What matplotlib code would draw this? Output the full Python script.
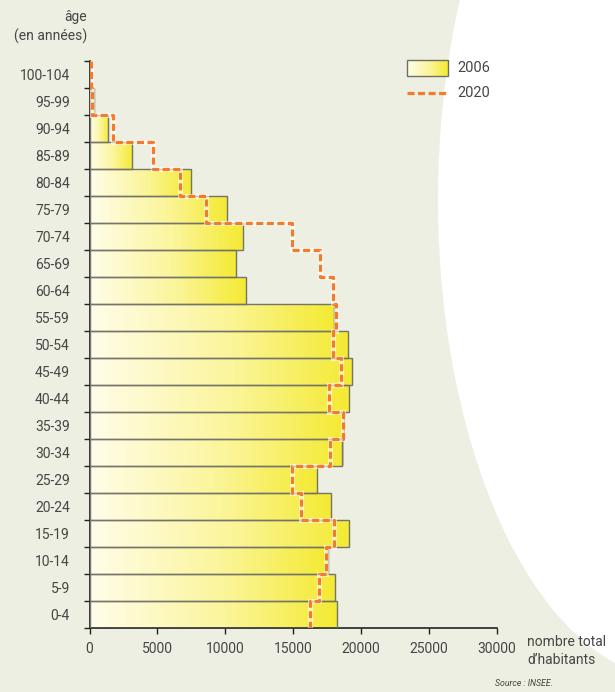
import numpy as np
import matplotlib.pyplot as plt
from matplotlib.colors import LinearSegmentedColormap
from matplotlib.patches import Rectangle, Ellipse

plt.rcParams['font.family'] = ['Roboto', 'DejaVu Sans']

# age groups, bottom to top
ages = ['0-4', '5-9', '10-14', '15-19', '20-24', '25-29', '30-34', '35-39',
        '40-44', '45-49', '50-54', '55-59', '60-64', '65-69', '70-74',
        '75-79', '80-84', '85-89', '90-94', '95-99', '100-104']
pop_2006 = [18200, 18080, 17560, 19090, 17780, 16750, 18620, 18720, 19100,
            19330, 19060, 18000, 11550, 10780, 11270, 10150, 7490, 3120,
            1350, 300, 0]
pop_2020 = [16260, 16910, 17440, 17990, 15600, 14940, 17730, 18670, 17610,
            18550, 17960, 18130, 17930, 16950, 14900, 8600, 6680, 4670,
            1700, 200, 80]
xticks = [0, 5000, 10000, 15000, 20000, 25000, 30000]

bg = '#ECEFE1'
txt = '#464646'
orange = '#F47B2A'
cmap = LinearSegmentedColormap.from_list(
    'yel', [(0, '#FFFDE9'), (0.55, '#FBF59A'), (1, '#F4EA32')])
grad = np.linspace(0, 1, 256).reshape(1, -1)

W, H = 615, 692
fig = plt.figure(figsize=(W / 100, H / 100), dpi=100, facecolor=bg)

# background layer in pixel coords
bgax = fig.add_axes([0, 0, 1, 1], zorder=0)
bgax.set_xlim(0, W)
bgax.set_ylim(H, 0)
bgax.axis('off')
bgax.add_patch(Ellipse((678, 200), 480, 960, facecolor='white', edgecolor='none'))

# legend
bgax.imshow(grad, cmap=cmap, extent=(407, 448, 76, 60), aspect='auto', zorder=2)
bgax.add_patch(Rectangle((407, 60), 41, 16, fill=False, edgecolor='#6e6e64', lw=1, zorder=3))
bgax.text(457, 68, '2006', fontsize=10.5, color=txt, va='center')
bgax.plot([407, 448], [93, 93], color=orange, lw=2.3, dashes=(2.2, 1.1), zorder=3)
bgax.text(457, 93, '2020', fontsize=10.5, color=txt, va='center')
bgax.set_xlim(0, W)
bgax.set_ylim(H, 0)

bgax.text(87, 17, 'âge', fontsize=10, color=txt, ha='right', va='center')
bgax.text(87, 36, '(en années)', fontsize=10, color=txt, ha='right', va='center')
bgax.text(527, 642, 'nombre total', fontsize=10, color=txt, ha='left', va='center')
bgax.text(527, 660, 'd\u2019habitants', fontsize=10, color=txt, ha='left', va='center')
bgax.text(553, 683, 'Source : INSEE.', fontsize=6.3, color=txt, ha='right',
          va='center', style='italic')

# main chart
ax = fig.add_axes([89.5 / W, 1 - 628 / H, (497 - 89.5) / W, (628 - 61) / H], zorder=1)
ax.patch.set_alpha(0)

n = len(ages)
for i, v in enumerate(pop_2006):
    if v <= 0:
        continue
    ax.add_patch(Rectangle((0, i), v + 80, 1, facecolor='#9a9a8c', edgecolor='none',
                           alpha=0.5, zorder=1))
    ax.imshow(grad, cmap=cmap, extent=(0, v, i, i + 1), aspect='auto', zorder=2)
    ax.add_patch(Rectangle((0, i), v, 1, fill=False, edgecolor='#74746a', lw=1, zorder=3))

# 2020 step line, top to bottom
xs, ys = [], []
for i in range(n - 1, -1, -1):
    xs += [pop_2020[i], pop_2020[i]]
    ys += [i + 1, i]
ax.plot(xs, ys, color='white', lw=3.6, alpha=0.6, zorder=4, solid_joinstyle='miter')
ax.plot(xs, ys, color=orange, lw=2.3, dashes=(2.2, 1.1), zorder=5)

ax.set_xlim(0, 30000)
ax.set_ylim(0, n)
ax.set_aspect('auto')

for s in ('top', 'right'):
    ax.spines[s].set_visible(False)
for s in ('left', 'bottom'):
    ax.spines[s].set_color('#222222')
    ax.spines[s].set_linewidth(1.2)

ax.set_xticks(xticks)
ax.set_xticklabels([str(x) for x in xticks])
ax.tick_params(axis='x', length=4, width=1, color='#222222', labelsize=10,
               labelcolor=txt, pad=6)
ax.set_yticks(np.arange(0, n + 1))
ax.set_yticklabels([])
ax.set_yticks(np.arange(n) + 0.5, minor=True)
ax.set_yticklabels(ages, minor=True)
ax.tick_params(axis='y', which='major', length=4, width=1, color='#222222')
ax.tick_params(axis='y', which='minor', length=0, labelsize=10, labelcolor=txt, pad=14)

fig.savefig('out.png', dpi=100, facecolor=bg)
